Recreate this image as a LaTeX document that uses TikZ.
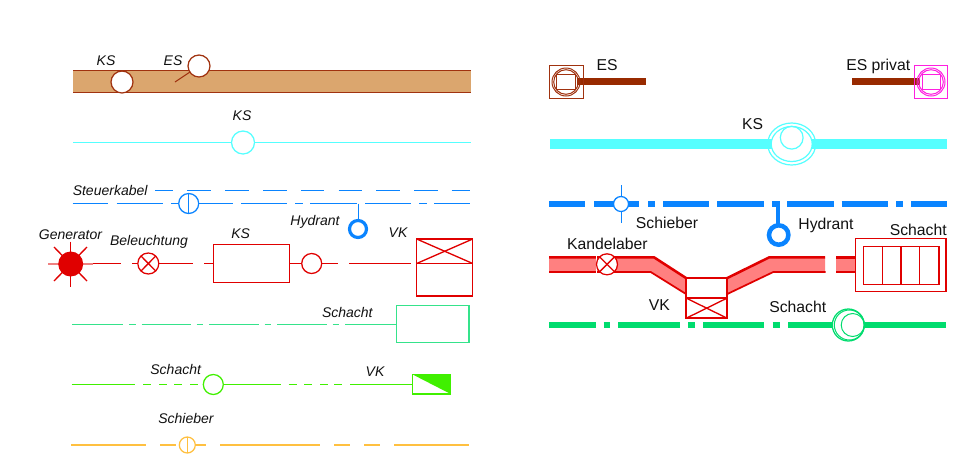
\documentclass[tikz,border=0pt]{standalone}
\usepackage{fontspec}
\setmainfont{Liberation Sans}
\definecolor{brn}{HTML}{A0320F}
\definecolor{bar}{HTML}{982A00}
\definecolor{sand}{HTML}{DBA66E}
\definecolor{cyn}{HTML}{55FFFF}
\definecolor{blu}{HTML}{0A84FF}
\definecolor{rd}{HTML}{E00000}
\definecolor{rdl}{HTML}{FF8080}
\definecolor{mint}{HTML}{35E38B}
\definecolor{lime}{HTML}{40F000}
\definecolor{gold}{HTML}{FFC040}
\definecolor{emer}{HTML}{00DC6E}
\definecolor{mag}{HTML}{FF20E0}
\definecolor{ink}{HTML}{111111}
\tikzset{
  x=0.75pt,y=-0.75pt,
  lab/.style={font=\fontsize{11.8}{14}\selectfont,text=ink,inner sep=0pt,text height=8.4pt,text depth=0pt},
  ital/.style={font=\fontsize{10.5}{12}\selectfont\itshape,text=ink,inner sep=0pt,text height=7.5pt,text depth=0pt},
  thin line/.style={line width=1pt},
  thick bar/.style={line width=4.9pt},
  sym/.style={line width=0.95pt,fill=white},
}
\begin{document}
\begin{tikzpicture}
\useasboundingbox (0,0) rectangle (960,461);
% ---------- left column ----------
\fill[sand] (73,70) rectangle (471,93);
\draw[brn,line width=1.1pt] (73,70.5) -- (471,70.5);
\draw[brn,line width=1.1pt] (73,92.7) -- (471,92.7);
\draw[brn,line width=0.8pt] (175,82) -- (190,72);
\draw[brn,sym] (122,82) circle (11);
\draw[brn,sym] (199,66) circle (11);
\node[ital] (l1) at (106,60) {KS};
\node[ital] (l2) at (173,60) {ES};
% cyan thin
\draw[cyn,thin line] (73,142.5) -- (471,142.5);
\draw[cyn,sym] (243,142.5) circle (11.5);
\node[ital] (l3) at (242,115.5) {KS};
% blue
\node[ital,anchor=west] (l4) at (72.5,190) {Steuerkabel};
\foreach \a/\b in {155/173.3,187.3/211,225.3/249,263/286.7,301/324.3,338.7/362.3,376.3/400,414/437.7,451.7/470}
  \draw[blu,thin line] (\a,190.5) -- (\b,190.5);
\foreach \a/\b in {72.7/108,116.7/162.7,171/179,179/198,198/232.7,241/287,295/302.7,310.3/356.7,365/411,419/426.7,434/470}
  \draw[blu,thin line] (\a,203.5) -- (\b,203.5);
\draw[blu,sym] (188.7,203.5) circle (10);
\draw[blu,thin line] (188.5,193.5) -- (188.5,213.5);
\draw[blu,thin line] (358.5,203.5) -- (358.5,220);
\draw[blu,line width=2.4pt] (358,229) circle (8.5);
\node[ital] (l5) at (315,220.5) {Hydrant};
% red thin
\foreach \a/\b in {92/120.7,132/193,204.3/213.3,289/338,349.3/411}
  \draw[rd,thin line] (\a,263.5) -- (\b,263.5);
\draw[rd,thin line] (70.5,241.5) -- (70.5,287);
\draw[rd!50,thin line] (48,264) -- (60,264);
\draw[rd!50,thin line] (80,264) -- (93,264);
\draw[rd,thin line] (54,247) -- (87,281);
\draw[rd,thin line] (87,247) -- (54,281);
\fill[rd] (70.7,264) circle (12.5);
\draw[rd,sym] (148.3,263.5) circle (10.5);
\draw[rd,thin line] (141,256) -- (155.7,271);
\draw[rd,thin line] (155.7,256) -- (141,271);
\draw[rd,sym] (213.5,244.5) rectangle (289.5,282.5);
\draw[rd,sym] (311.7,263.5) circle (10);
\draw[rd,line width=0.95pt] (416.7,239) rectangle (472.7,296);
\draw[rd,thin line] (416.7,263.5) -- (472.7,263.5);
\draw[rd,thin line] (416.7,263.5) -- (472.7,239);
\draw[rd,thin line] (416.7,239) -- (472.7,263.5);
\node[ital] (l6) at (70.5,234) {Generator};
\node[ital] (l7) at (149,240) {Beleuchtung};
\node[ital] (l8) at (240.7,233.5) {KS};
\node[ital] (l9) at (398,232.5) {VK};
% mint
\foreach \a/\b in {72/123.3,129/135.7,141.7/191,196.7/203.3,209.3/259,264.7/271.3,277.3/326.7,332.7/339.3,345.3/396}
  \draw[mint,thin line] (\a,324.5) -- (\b,324.5);
\draw[mint,line width=1pt] (396.5,305.7) rectangle (469,342.5);
\node[ital] (l10) at (347.3,312.5) {Schacht};
% lime
\foreach \a/\b in {71.7/135,143.3/151,159/166.7,174.3/182.3,190/197.7,223.3/280.7,288.7/296.7,304.3/312.3,320/327.7,334/342,350/412.3}
  \draw[lime,thin line] (\a,384.5) -- (\b,384.5);
\draw[lime,sym] (213.3,384.5) circle (10);
\draw[lime,line width=1pt] (412.3,374.3) rectangle (450.7,394);
\fill[lime] (412.3,374.3) -- (450.7,374.3) -- (450.7,394) -- cycle;
\node[ital] (l11) at (175.7,369) {Schacht};
\node[ital] (l12) at (375,371.5) {VK};
% gold
\foreach \a/\b in {71/145.7,160/176.3,195.7/206,220.3/319.7,334.3/350,364.3/380,394.3/469}
  \draw[gold,line width=1.5pt] (\a,445) -- (\b,445);
\draw[gold,sym] (187.3,445) circle (8);
\draw[gold,thin line] (187.5,437) -- (187.5,453);
\node[ital] (l13) at (186,418.5) {Schieber};
% ---------- right column ----------
\draw[bar,thick bar] (576.7,81.7) -- (645.7,81.7);
\draw[brn,line width=0.9pt] (549.5,65.7) rectangle (583.3,98.3);
\draw[brn,line width=0.75pt] (566,82) circle (14);
\draw[brn,line width=0.75pt] (566,82) circle (12.3);
\draw[brn,line width=0.75pt] (556.7,74) rectangle (575,89.3);
\node[lab] (r1) at (607,64.5) {ES};
\draw[bar,thick bar] (852.3,81.7) -- (920,81.7);
\draw[mag,line width=0.9pt] (914.7,65.7) rectangle (947.7,98.3);
\draw[mag,line width=0.75pt] (931,82) circle (14);
\draw[mag,line width=0.75pt] (931,82) circle (12.3);
\draw[mag,line width=0.75pt] (922,74) rectangle (940,89.3);
\node[lab] (r2) at (878.3,65) {ES privat};
% KS thick
\fill[cyn] (550,138.7) rectangle (771.7,149.3);
\fill[cyn] (811.7,138.7) rectangle (947.3,149.3);
\draw[cyn,line width=0.9pt] (791.7,144) ellipse (24 and 21);
\draw[cyn,line width=0.9pt] (791.7,144) ellipse (20.5 and 17.5);
\draw[cyn,line width=0.9pt] (791.7,137.7) circle (11.4);
\node[lab] (r3) at (752.7,124.3) {KS};
% blue thick
\foreach \a/\b in {549/585,594/639.3,648.3/655,663/709.3,717.3/764,772.3/780,787/833.7,841.7/888,896/902.7,911.3/947}
  \draw[blu,thick bar] (\a,204) -- (\b,204);
\draw[blu,thin line] (621.5,185) -- (621.5,223.3);
\draw[blu,sym] (621,204) circle (7.5);
\draw[blu,line width=3.2pt] (777.7,204) -- (777.7,224);
\draw[blu,line width=3.4pt] (778.7,235) circle (9.7);
\node[lab] (r4) at (667,222.5) {Schieber};
\node[lab] (r5) at (826,223.5) {Hydrant};
\node[lab] (r6) at (918.3,229.5) {Schacht};
\node[lab] (r7) at (607.3,244) {Kandelaber};
\node[lab] (r8) at (659.3,304.7) {VK};
\node[lab] (r9) at (797.7,307.3) {Schacht};
% red band
\fill[rdl] (549,257.3) -- (654,257.3) -- (686,278) -- (727.3,278) -- (769.3,257.3) -- (825,257.3)
  -- (825,271.7) -- (773.3,271.7) -- (727.3,294) -- (686,294) -- (650.7,271.7) -- (549,271.7) -- cycle;
\fill[rdl] (836,257.3) rectangle (855.3,271.7);
\draw[rd,line width=1.9pt] (549,257.3) -- (654,257.3) -- (686,278);
\draw[rd,line width=1.9pt] (727.3,278) -- (769.3,257.3) -- (825,257.3);
\draw[rd,line width=1.3pt] (549,272) -- (650.7,272) -- (686,294);
\draw[rd,line width=1.3pt] (727.3,294) -- (773.3,272) -- (825.5,272);
\draw[rd,line width=1.9pt] (836,257.3) -- (855.3,257.3);
\draw[rd,line width=1.3pt] (836,272) -- (855.3,272);
\fill[white] (595.7,255) rectangle (597,274);
\draw[rd,sym] (607,264.3) circle (10.5);
\draw[rd,thin line] (599.6,256.9) -- (614.4,271.7);
\draw[rd,thin line] (614.4,256.9) -- (599.6,271.7);
\draw[rd,line width=1.7pt,fill=white] (686,278) rectangle (727.3,318.3);
\draw[rd,line width=1.5pt] (686,298) -- (727.3,298);
\draw[rd,line width=1pt] (686,298) -- (727.3,318.3);
\draw[rd,line width=1pt] (727.3,298) -- (686,318.3);
\draw[rd,sym] (855.5,238.5) rectangle (946,291.5);
\draw[rd,line width=0.95pt] (863.5,246.5) rectangle (939,284.5);
\foreach \a in {882.5,901,919.7}
  \draw[rd,line width=0.95pt] (\a,246.5) -- (\a,284.5);
% green thick
\foreach \a/\b in {549/595.7,603.7/610,618.3/679.7,688/695.3,703.3/764.3,772.7/780,788/835,861/946}
  \draw[emer,thick bar] (\a,325) -- (\b,325);
\draw[emer,sym] (848.3,325) circle (16);
\draw[emer,line width=0.75pt] (849.3,325) circle (15);
\draw[emer,line width=0.75pt] (852.7,325) circle (11.5);
\end{tikzpicture}
\end{document}
